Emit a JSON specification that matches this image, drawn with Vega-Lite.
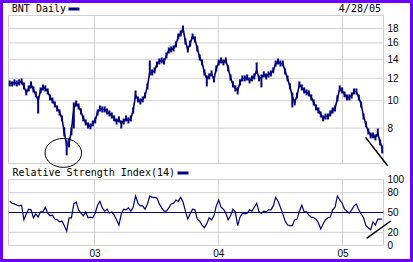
{
"$schema":"https://vega.github.io/schema/vega-lite/v6.json",
"width":413,"height":262,"autosize":{"type":"none"},"padding":0,"background":"white",
"title":{"text":"4/28/05","anchor":"end","orient":"top","frame":"group","offset":-22,"dx":-32,"baseline":"alphabetic","font":"DejaVu Sans Mono","fontSize":10,"fontWeight":"normal","color":"black"},
"config":{
 "view":{"stroke":"#6a00ff","strokeWidth":6,"fill":"white"},
 "axis":{"labelFont":"Liberation Sans","labelFontSize":10,"labelColor":"black","domain":false,"ticks":false,"tickSize":0,"grid":false,"labelOverlap":false,"labelPadding":0},
 "legend":{"padding":0,"labelFont":"DejaVu Sans Mono","labelFontSize":10,"labelColor":"black","symbolType":"stroke","symbolSize":121,"symbolStrokeWidth":3,"labelAlign":"right","labelOffset":-15,"labelLimit":400,"orient":"none"}
},
"datasets":{
"p":[
{"d":"2002-04-26","c":11.51,"h":11.79,"l":11.23,"r":67},
{"d":"2002-05-03","c":11.51,"h":11.70,"l":11.23,"r":64},
{"d":"2002-05-10","c":11.60,"h":11.89,"l":11.32,"r":63},
{"d":"2002-05-17","c":11.51,"h":11.79,"l":11.23,"r":61},
{"d":"2002-05-24","c":11.60,"h":11.89,"l":11.32,"r":60},
{"d":"2002-05-31","c":11.70,"h":11.98,"l":11.41,"r":61},
{"d":"2002-06-07","c":11.23,"h":11.60,"l":10.96,"r":39},
{"d":"2002-06-14","c":10.69,"h":10.96,"l":10.44,"r":48},
{"d":"2002-06-21","c":11.05,"h":11.32,"l":10.78,"r":55},
{"d":"2002-06-28","c":11.41,"h":11.70,"l":11.05,"r":54},
{"d":"2002-07-05","c":10.96,"h":11.23,"l":10.69,"r":42},
{"d":"2002-07-12","c":10.52,"h":10.78,"l":10.27,"r":48},
{"d":"2002-07-19","c":10.02,"h":10.35,"l":9.01,"r":43},
{"d":"2002-07-26","c":10.87,"h":11.14,"l":10.61,"r":51},
{"d":"2002-08-02","c":11.14,"h":11.41,"l":10.87,"r":51},
{"d":"2002-08-09","c":11.05,"h":11.32,"l":10.78,"r":58},
{"d":"2002-08-16","c":10.78,"h":11.05,"l":10.52,"r":49},
{"d":"2002-08-23","c":10.27,"h":10.52,"l":10.02,"r":45},
{"d":"2002-08-30","c":10.02,"h":10.27,"l":9.78,"r":46},
{"d":"2002-09-06","c":9.70,"h":9.94,"l":9.47,"r":40},
{"d":"2002-09-13","c":9.39,"h":9.62,"l":9.16,"r":39},
{"d":"2002-09-20","c":9.09,"h":9.31,"l":8.87,"r":36},
{"d":"2002-09-27","c":8.65,"h":8.87,"l":8.45,"r":37},
{"d":"2002-10-04","c":7.72,"h":8.05,"l":7.48,"r":30},
{"d":"2002-10-11","c":6.95,"h":7.24,"l":6.41,"r":22},
{"d":"2002-10-18","c":7.07,"h":7.36,"l":6.84,"r":42},
{"d":"2002-10-25","c":7.85,"h":8.05,"l":7.54,"r":42},
{"d":"2002-11-01","c":9.39,"h":9.86,"l":7.98,"r":63},
{"d":"2002-11-08","c":9.78,"h":10.02,"l":9.54,"r":66},
{"d":"2002-11-15","c":9.54,"h":9.78,"l":9.31,"r":54},
{"d":"2002-11-22","c":9.16,"h":9.39,"l":8.94,"r":49},
{"d":"2002-11-29","c":8.65,"h":8.87,"l":8.45,"r":45},
{"d":"2002-12-06","c":8.38,"h":8.58,"l":8.18,"r":51},
{"d":"2002-12-13","c":8.18,"h":8.38,"l":7.98,"r":42},
{"d":"2002-12-20","c":8.11,"h":8.31,"l":7.92,"r":43},
{"d":"2002-12-27","c":8.31,"h":8.52,"l":8.11,"r":42},
{"d":"2003-01-03","c":8.52,"h":8.73,"l":8.31,"r":49},
{"d":"2003-01-10","c":9.09,"h":9.31,"l":8.87,"r":61},
{"d":"2003-01-17","c":9.39,"h":9.62,"l":9.16,"r":67},
{"d":"2003-01-24","c":9.31,"h":9.54,"l":9.09,"r":57},
{"d":"2003-01-31","c":9.31,"h":9.54,"l":9.09,"r":52},
{"d":"2003-02-07","c":9.16,"h":9.39,"l":8.94,"r":55},
{"d":"2003-02-14","c":9.01,"h":9.24,"l":8.80,"r":49},
{"d":"2003-02-21","c":8.87,"h":9.09,"l":8.65,"r":51},
{"d":"2003-02-28","c":8.65,"h":8.87,"l":8.45,"r":46},
{"d":"2003-03-07","c":8.45,"h":8.65,"l":8.24,"r":39},
{"d":"2003-03-14","c":8.58,"h":8.80,"l":8.38,"r":31},
{"d":"2003-03-21","c":8.31,"h":8.52,"l":7.98,"r":48},
{"d":"2003-03-28","c":8.45,"h":8.65,"l":8.24,"r":55},
{"d":"2003-04-04","c":8.65,"h":8.87,"l":8.45,"r":54},
{"d":"2003-04-11","c":8.52,"h":8.73,"l":8.31,"r":57},
{"d":"2003-04-18","c":8.65,"h":8.87,"l":8.45,"r":52},
{"d":"2003-04-25","c":9.24,"h":9.47,"l":9.01,"r":58},
{"d":"2003-05-02","c":10.44,"h":10.87,"l":10.18,"r":75},
{"d":"2003-05-09","c":10.10,"h":10.35,"l":9.86,"r":64},
{"d":"2003-05-16","c":9.94,"h":10.18,"l":9.70,"r":60},
{"d":"2003-05-23","c":10.10,"h":10.35,"l":9.86,"r":60},
{"d":"2003-05-30","c":10.44,"h":10.69,"l":10.18,"r":55},
{"d":"2003-06-06","c":11.23,"h":11.51,"l":10.96,"r":63},
{"d":"2003-06-13","c":12.59,"h":13.87,"l":12.28,"r":75},
{"d":"2003-06-20","c":12.59,"h":12.90,"l":12.28,"r":73},
{"d":"2003-06-27","c":12.79,"h":13.11,"l":12.49,"r":73},
{"d":"2003-07-04","c":13.43,"h":13.76,"l":13.11,"r":72},
{"d":"2003-07-11","c":13.76,"h":14.10,"l":13.43,"r":63},
{"d":"2003-07-18","c":13.87,"h":14.22,"l":13.54,"r":57},
{"d":"2003-07-25","c":13.76,"h":14.10,"l":13.43,"r":52},
{"d":"2003-08-01","c":14.45,"h":14.81,"l":14.10,"r":52},
{"d":"2003-08-08","c":15.05,"h":15.42,"l":14.69,"r":57},
{"d":"2003-08-15","c":15.17,"h":15.54,"l":14.81,"r":63},
{"d":"2003-08-22","c":15.29,"h":15.67,"l":14.93,"r":64},
{"d":"2003-08-29","c":15.80,"h":16.19,"l":15.42,"r":69},
{"d":"2003-09-05","c":16.86,"h":17.27,"l":16.46,"r":67},
{"d":"2003-09-12","c":17.27,"h":17.70,"l":16.86,"r":73},
{"d":"2003-09-19","c":17.99,"h":18.44,"l":17.41,"r":66},
{"d":"2003-09-26","c":16.19,"h":16.59,"l":15.80,"r":52},
{"d":"2003-10-03","c":15.17,"h":15.54,"l":14.81,"r":40},
{"d":"2003-10-10","c":15.93,"h":16.32,"l":15.54,"r":48},
{"d":"2003-10-17","c":16.86,"h":17.27,"l":16.46,"r":55},
{"d":"2003-10-24","c":16.46,"h":16.86,"l":16.06,"r":54},
{"d":"2003-10-31","c":15.29,"h":15.67,"l":14.93,"r":40},
{"d":"2003-11-07","c":14.22,"h":14.57,"l":13.87,"r":37},
{"d":"2003-11-14","c":13.65,"h":13.98,"l":13.32,"r":31},
{"d":"2003-11-21","c":12.59,"h":12.90,"l":12.28,"r":27},
{"d":"2003-11-28","c":11.98,"h":12.28,"l":11.23,"r":33},
{"d":"2003-12-05","c":12.18,"h":12.49,"l":11.89,"r":42},
{"d":"2003-12-12","c":12.49,"h":12.79,"l":12.18,"r":39},
{"d":"2003-12-19","c":11.89,"h":12.18,"l":11.60,"r":45},
{"d":"2003-12-26","c":13.00,"h":13.32,"l":12.69,"r":60},
{"d":"2004-01-02","c":13.65,"h":13.98,"l":13.32,"r":69},
{"d":"2004-01-09","c":13.87,"h":14.22,"l":13.54,"r":58},
{"d":"2004-01-16","c":13.65,"h":13.98,"l":13.32,"r":55},
{"d":"2004-01-23","c":13.87,"h":14.22,"l":13.54,"r":49},
{"d":"2004-01-30","c":13.00,"h":13.32,"l":12.69,"r":39},
{"d":"2004-02-06","c":12.08,"h":12.38,"l":11.79,"r":45},
{"d":"2004-02-13","c":11.41,"h":11.70,"l":11.14,"r":55},
{"d":"2004-02-20","c":11.05,"h":11.32,"l":10.78,"r":51},
{"d":"2004-02-27","c":10.87,"h":11.14,"l":10.52,"r":30},
{"d":"2004-03-05","c":11.60,"h":11.89,"l":11.32,"r":43},
{"d":"2004-03-12","c":11.98,"h":12.28,"l":11.70,"r":49},
{"d":"2004-03-19","c":11.98,"h":12.28,"l":11.70,"r":48},
{"d":"2004-03-26","c":12.08,"h":12.38,"l":11.79,"r":49},
{"d":"2004-04-02","c":11.79,"h":12.08,"l":11.51,"r":54},
{"d":"2004-04-09","c":11.98,"h":12.28,"l":11.70,"r":52},
{"d":"2004-04-16","c":12.18,"h":12.49,"l":11.89,"r":58},
{"d":"2004-04-23","c":12.79,"h":13.65,"l":12.49,"r":64},
{"d":"2004-04-30","c":11.98,"h":12.28,"l":11.70,"r":51},
{"d":"2004-05-07","c":12.08,"h":12.38,"l":11.14,"r":49},
{"d":"2004-05-14","c":12.38,"h":12.69,"l":12.08,"r":52},
{"d":"2004-05-21","c":12.18,"h":12.49,"l":11.89,"r":51},
{"d":"2004-05-28","c":12.38,"h":12.69,"l":12.08,"r":54},
{"d":"2004-06-04","c":12.49,"h":12.79,"l":12.18,"r":54},
{"d":"2004-06-11","c":12.79,"h":13.11,"l":12.49,"r":60},
{"d":"2004-06-18","c":13.54,"h":13.87,"l":13.21,"r":73},
{"d":"2004-06-25","c":13.76,"h":14.10,"l":13.43,"r":67},
{"d":"2004-07-02","c":13.54,"h":13.87,"l":13.21,"r":58},
{"d":"2004-07-09","c":13.54,"h":13.87,"l":13.21,"r":48},
{"d":"2004-07-16","c":12.69,"h":13.00,"l":12.38,"r":37},
{"d":"2004-07-23","c":11.98,"h":12.28,"l":11.70,"r":31},
{"d":"2004-07-30","c":11.23,"h":11.51,"l":10.96,"r":30},
{"d":"2004-08-06","c":10.35,"h":10.69,"l":9.47,"r":30},
{"d":"2004-08-13","c":9.86,"h":10.10,"l":9.62,"r":39},
{"d":"2004-08-20","c":10.44,"h":10.69,"l":10.18,"r":40},
{"d":"2004-08-27","c":11.41,"h":11.70,"l":11.14,"r":52},
{"d":"2004-09-03","c":11.14,"h":11.41,"l":10.87,"r":61},
{"d":"2004-09-10","c":10.87,"h":11.14,"l":10.61,"r":51},
{"d":"2004-09-17","c":10.69,"h":10.96,"l":10.44,"r":51},
{"d":"2004-09-24","c":10.61,"h":10.87,"l":10.35,"r":46},
{"d":"2004-10-01","c":10.27,"h":10.52,"l":10.02,"r":43},
{"d":"2004-10-08","c":9.86,"h":10.10,"l":9.62,"r":42},
{"d":"2004-10-15","c":9.47,"h":9.70,"l":9.24,"r":40},
{"d":"2004-10-22","c":9.24,"h":9.47,"l":9.01,"r":34},
{"d":"2004-10-29","c":8.94,"h":9.16,"l":8.73,"r":25},
{"d":"2004-11-05","c":8.65,"h":8.87,"l":8.45,"r":33},
{"d":"2004-11-12","c":8.80,"h":9.01,"l":8.58,"r":39},
{"d":"2004-11-19","c":8.80,"h":9.01,"l":8.58,"r":42},
{"d":"2004-11-26","c":9.01,"h":9.24,"l":8.80,"r":43},
{"d":"2004-12-03","c":9.24,"h":9.47,"l":9.01,"r":54},
{"d":"2004-12-10","c":9.39,"h":9.62,"l":9.16,"r":58},
{"d":"2004-12-17","c":10.18,"h":10.44,"l":9.94,"r":75},
{"d":"2004-12-24","c":11.05,"h":11.32,"l":10.78,"r":69},
{"d":"2004-12-31","c":10.87,"h":11.14,"l":10.61,"r":64},
{"d":"2005-01-07","c":10.52,"h":10.78,"l":10.27,"r":55},
{"d":"2005-01-14","c":10.27,"h":10.52,"l":10.02,"r":52},
{"d":"2005-01-21","c":10.27,"h":10.52,"l":10.02,"r":49},
{"d":"2005-01-28","c":10.44,"h":10.69,"l":10.18,"r":54},
{"d":"2005-02-04","c":10.78,"h":11.05,"l":10.52,"r":60},
{"d":"2005-02-11","c":10.78,"h":11.05,"l":10.52,"r":63},
{"d":"2005-02-18","c":10.27,"h":10.52,"l":10.02,"r":54},
{"d":"2005-02-25","c":9.70,"h":9.94,"l":9.47,"r":48},
{"d":"2005-03-04","c":8.80,"h":9.01,"l":8.58,"r":42},
{"d":"2005-03-11","c":8.24,"h":8.45,"l":8.05,"r":30},
{"d":"2005-03-18","c":7.79,"h":7.98,"l":7.60,"r":27},
{"d":"2005-03-25","c":7.54,"h":7.72,"l":7.36,"r":24},
{"d":"2005-04-01","c":7.54,"h":7.72,"l":7.36,"r":36},
{"d":"2005-04-08","c":7.42,"h":7.60,"l":7.24,"r":31},
{"d":"2005-04-15","c":7.66,"h":7.98,"l":7.48,"r":40},
{"d":"2005-04-22","c":7.12,"h":7.30,"l":6.95,"r":40},
{"d":"2005-04-28","c":6.79,"h":6.95,"l":6.51,"r":40}
],
"yr":[{"d":"2003-01-01"},{"d":"2004-01-01"},{"d":"2005-01-01"}],
"pg":[{"v":8},{"v":10},{"v":12},{"v":14},{"v":16},{"v":18}],
"rg":[{"v":20},{"v":80}],
"one":[{}],
"tp":[{"d":"2005-03-10","p":7.42},{"d":"2005-05-14","p":5.89}],
"tr":[{"d":"2005-03-13","v":10.9},{"d":"2005-05-23","v":37.1}],
"el":[{"d":"2002-10-01","p":6.54}]
},
"layer":[
{"layer":[
 {"data":{"name":"one"},"mark":{"type":"rect","fill":"transparent","stroke":"#d0d0d0","strokeWidth":1},
  "encoding":{"x":{"datum":{"year":2002,"month":4,"date":22,"hours":12,"minutes":14,"utc":true},"type":"temporal","scale":{"type":"utc","domain":[{"year":2002,"month":3,"date":28,"hours":10,"minutes":48,"utc":true},{"year":2005,"month":7,"date":27,"hours":19,"minutes":12,"utc":true}]}},
   "x2":{"datum":{"year":2005,"month":5,"date":1,"hours":20,"minutes":38,"utc":true}},
   "y":{"datum":6,"type":"quantitative","scale":{"type":"log","domain":[2.692,22.69],"nice":false,"zero":false}},"y2":{"datum":20}}},
 {"data":{"name":"pg"},"mark":{"type":"rule","color":"#d0d0d0","strokeWidth":1},
  "encoding":{"x":{"datum":{"year":2002,"month":4,"date":22,"hours":12,"minutes":14,"utc":true},"type":"temporal"},
   "x2":{"datum":{"year":2005,"month":5,"date":1,"hours":20,"minutes":38,"utc":true}},
   "y":{"field":"v","type":"quantitative"}}},
 {"data":{"name":"yr"},"mark":{"type":"rule","color":"#d0d0d0","strokeWidth":1},
  "encoding":{"x":{"field":"d","type":"temporal"},"y":{"datum":6,"type":"quantitative"},"y2":{"datum":20}}},
 {"data":{"name":"p"},"mark":{"type":"rule","color":"#000080","strokeWidth":2},
  "encoding":{"x":{"field":"d","type":"temporal"},"y":{"field":"l","type":"quantitative"},"y2":{"field":"h"}}},
 {"data":{"name":"p"},"mark":{"type":"line","strokeWidth":1.6,"interpolate":"linear"},
  "encoding":{"x":{"field":"d","type":"temporal","axis":{"values":[{"year":2003,"month":1,"date":1,"utc":true},{"year":2004,"month":1,"date":1,"utc":true},{"year":2005,"month":1,"date":1,"utc":true}],"format":"%y","orient":"bottom","offset":-14,"title":null,"labelPadding":0}},
   "y":{"field":"c","type":"quantitative","axis":{"orient":"right","offset":-26,"values":[8,10,12,14,16,18],"format":"d","labelAlign":"left","labelBaseline":"middle","title":null}},
   "color":{"datum":"BNT Daily","type":"nominal","scale":{"range":["#000080"]},"legend":{"title":null,"legendX":67,"legendY":2}}}},
 {"data":{"name":"tp"},"mark":{"type":"line","color":"black","strokeWidth":1.5},
  "encoding":{"x":{"field":"d","type":"temporal"},"y":{"field":"p","type":"quantitative"}}},
 {"data":{"name":"el"},"mark":{"type":"point","shape":"M-1,0A1,0.79,0,1,1,1,0A1,0.79,0,1,1,-1,0Z","size":1340,"filled":false,"stroke":"black","strokeWidth":1,"opacity":1},
  "encoding":{"x":{"field":"d","type":"temporal"},"y":{"field":"p","type":"quantitative"}}}
]},
{"layer":[
 {"data":{"name":"one"},"mark":{"type":"rect","fill":"transparent","stroke":"#d0d0d0","strokeWidth":1},
  "encoding":{"x":{"datum":{"year":2002,"month":4,"date":22,"hours":12,"minutes":14,"utc":true},"type":"temporal"},
   "x2":{"datum":{"year":2005,"month":5,"date":1,"hours":20,"minutes":38,"utc":true}},
   "y":{"datum":0,"type":"quantitative","scale":{"domain":[-25,371.97],"nice":false,"zero":false}},"y2":{"datum":100}}},
 {"data":{"name":"rg"},"mark":{"type":"rule","color":"#d0d0d0","strokeWidth":1},
  "encoding":{"x":{"datum":{"year":2002,"month":4,"date":22,"hours":12,"minutes":14,"utc":true},"type":"temporal"},
   "x2":{"datum":{"year":2005,"month":5,"date":1,"hours":20,"minutes":38,"utc":true}},
   "y":{"field":"v","type":"quantitative"}}},
 {"data":{"name":"yr"},"mark":{"type":"rule","color":"#d0d0d0","strokeWidth":1},
  "encoding":{"x":{"field":"d","type":"temporal"},"y":{"datum":0,"type":"quantitative"},"y2":{"datum":100}}},
 {"data":{"name":"one"},"mark":{"type":"rule","color":"#000080","strokeWidth":1},
  "encoding":{"x":{"datum":{"year":2002,"month":4,"date":22,"hours":12,"minutes":14,"utc":true},"type":"temporal"},
   "x2":{"datum":{"year":2005,"month":5,"date":1,"hours":20,"minutes":38,"utc":true}},
   "y":{"datum":50,"type":"quantitative"}}},
 {"data":{"name":"p"},"mark":{"type":"line","strokeWidth":1.2},
  "encoding":{"x":{"field":"d","type":"temporal"},
   "y":{"field":"r","type":"quantitative","axis":{"orient":"right","offset":-26,"values":[0,20,50,80,100],"format":"d","labelAlign":"left","labelBaseline":"middle","title":null}},
   "stroke":{"datum":"Relative Strength Index(14)","type":"nominal","scale":{"range":["#000080"]},"legend":{"title":null,"legendX":176,"legendY":166}}}},
 {"data":{"name":"tr"},"mark":{"type":"line","color":"black","strokeWidth":1.5},
  "encoding":{"x":{"field":"d","type":"temporal"},"y":{"field":"v","type":"quantitative"}}}
]}
],
"resolve":{"scale":{"y":"independent"},"axis":{"y":"independent"}}
}
